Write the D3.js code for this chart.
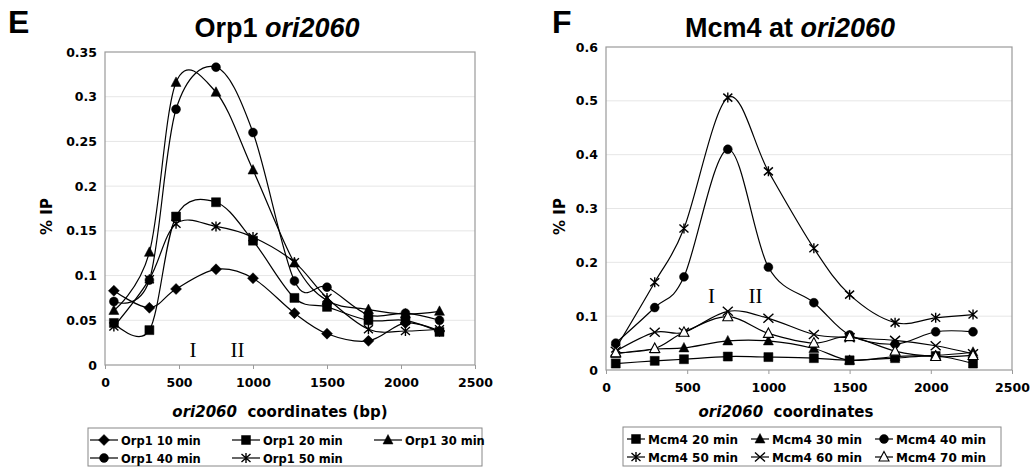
<!DOCTYPE html>
<html>
<head>
<meta charset="utf-8">
<script src="https://cdn.jsdelivr.net/npm/d3@7"></script>
<style>
  body { margin: 0; background: #fff; }
  svg { display: block; }
  text { fill: #000; }
  .tick-label { font-family: "DejaVu Sans", Verdana, sans-serif; font-weight: bold; font-size: 12.5px; }
  .axis-title { font-family: "DejaVu Sans", Verdana, sans-serif; font-weight: bold; font-size: 15px; }
  .chart-title { font-family: "Liberation Sans", Arial, sans-serif; font-weight: bold; font-size: 27px; }
  .panel { font-family: "Liberation Sans", Arial, sans-serif; font-weight: bold; font-size: 32px; }
  .roman { font-family: "Liberation Serif", "Times New Roman", serif; font-size: 21px; }
  .legend-text { font-family: "DejaVu Sans", Verdana, sans-serif; font-weight: bold; }
</style>
</head>
<body>
<svg id="chart" width="1032" height="467"></svg>
<script>
// sample positions along ori2060 (bp), shared by both panels
var coords = [60, 300, 480, 750, 1000, 1280, 1500, 1780, 2030, 2260];

// panel E: Orp1
var orpNames = ["Orp1 10 min", "Orp1 20 min", "Orp1 30 min", "Orp1 40 min", "Orp1 50 min"];
var orp10 = [0.083, 0.064, 0.085, 0.107, 0.097, 0.058, 0.035, 0.027, 0.047, 0.038];
var orp20 = [0.047, 0.039, 0.166, 0.182, 0.139, 0.075, 0.065, 0.050, 0.050, 0.037];
var orp30 = [0.061, 0.126, 0.316, 0.305, 0.218, 0.114, 0.072, 0.062, 0.057, 0.060];
var orp40 = [0.071, 0.095, 0.286, 0.333, 0.260, 0.094, 0.087, 0.056, 0.058, 0.050];
var orp50 = [0.043, 0.096, 0.158, 0.155, 0.143, 0.115, 0.075, 0.040, 0.038, 0.040];
var orpYTicks = [0, 0.05, 0.1, 0.15, 0.2, 0.25, 0.3, 0.35];

// panel F: Mcm4
var mcmNames = ["Mcm4 20 min", "Mcm4 30 min", "Mcm4 40 min", "Mcm4 50 min", "Mcm4 60 min", "Mcm4 70 min"];
var mcm20 = [0.012, 0.017, 0.020, 0.025, 0.024, 0.022, 0.018, 0.022, 0.026, 0.012];
var mcm30 = [0.030, 0.039, 0.041, 0.054, 0.054, 0.040, 0.018, 0.025, 0.027, 0.033];
var mcm40 = [0.050, 0.116, 0.173, 0.410, 0.191, 0.125, 0.065, 0.048, 0.071, 0.071];
var mcm50 = [0.040, 0.163, 0.263, 0.506, 0.369, 0.226, 0.140, 0.088, 0.097, 0.103];
var mcm60 = [0.035, 0.070, 0.070, 0.109, 0.096, 0.066, 0.060, 0.055, 0.045, 0.030];
var mcm70 = [0.032, 0.040, 0.070, 0.099, 0.068, 0.050, 0.062, 0.035, 0.025, 0.027];
var mcmYTicks = [0, 0.1, 0.2, 0.3, 0.4, 0.5, 0.6];

var xTicks = [0, 500, 1000, 1500, 2000, 2500];

var svg = d3.select("#chart");

// marker shapes, drawn around (0,0)
function markerPath(kind) {
  if (kind === "diamond") return "M0,-5.5L5.5,0L0,5.5L-5.5,0Z";
  if (kind === "square") return "M-4.5,-4.5H4.5V4.5H-4.5Z";
  if (kind === "triangle") return "M0,-5.5L5,4L-5,4Z";
  if (kind === "circle") return d3.symbol(d3.symbolCircle, 62)();
  if (kind === "asterisk") return "M0,-5V5M-4.5,-4L4.5,4M-4.5,4L4.5,-4";
  if (kind === "times") return "M-5,-4.5L5,4.5M-5,4.5L5,-4.5";
  return "";
}

function drawMarker(g, kind, x, y) {
  var open = kind === "opentriangle";
  var shape = open ? "triangle" : kind;
  var stroked = shape === "asterisk" || shape === "times";
  g.append("path")
    .attr("transform", "translate(" + x + "," + y + ")")
    .attr("d", markerPath(shape))
    .attr("fill", stroked ? "none" : (open ? "#fff" : "#000"))
    .attr("stroke", "#000")
    .attr("stroke-width", stroked ? 1.4 : (open ? 1.1 : 0.5));
}

function drawPanel(opt) {
  var x = d3.scaleLinear().domain([0, 2500]).range([opt.left, opt.right]);
  var y = d3.scaleLinear().domain([0, opt.yMax]).range([opt.bottom, opt.top]);
  var g = svg.append("g");

  // gridlines
  g.selectAll(".grid").data(opt.yTicks.slice(1, -1)).enter().append("line")
    .attr("x1", opt.left).attr("x2", opt.right)
    .attr("y1", function(d) { return y(d); }).attr("y2", function(d) { return y(d); })
    .attr("stroke", "#e6e6e6").attr("stroke-width", 1);

  // plot frame
  g.append("rect")
    .attr("x", opt.left).attr("y", opt.top)
    .attr("width", opt.right - opt.left).attr("height", opt.bottom - opt.top)
    .attr("fill", "none").attr("stroke", "#9a9a9a").attr("stroke-width", 1.2);

  // axes
  var xAxis = d3.axisBottom(x).tickValues(xTicks).tickSize(4).tickPadding(9).tickFormat(d3.format("d"));
  var yAxis = d3.axisLeft(y).tickValues(opt.yTicks).tickSize(0).tickPadding(8).tickFormat(d3.format("~g"));
  var xa = g.append("g").attr("transform", "translate(0," + opt.bottom + ")").call(xAxis);
  var ya = g.append("g").attr("transform", "translate(" + opt.left + ",0)").call(yAxis);
  [xa, ya].forEach(function(a) {
    a.select(".domain").remove();
    a.selectAll("line").attr("stroke", "#9a9a9a");
    a.selectAll("text").attr("class", "tick-label").attr("font-family", null).attr("font-size", null).attr("fill", "#000");
  });

  // curves
  var line = d3.line()
    .x(function(d, i) { return x(coords[i]); })
    .y(function(d) { return y(d); })
    .curve(d3.curveCardinal.tension(0));
  opt.series.forEach(function(s) {
    g.append("path").attr("d", line(s.values))
      .attr("fill", "none").attr("stroke", "#000").attr("stroke-width", 1.2);
  });
  opt.series.forEach(function(s) {
    s.values.forEach(function(v, i) { drawMarker(g, s.marker, x(coords[i]), y(v)); });
  });

  // roman numeral labels
  g.append("text").attr("class", "roman").attr("text-anchor", "middle")
    .attr("x", x(opt.romanX[0])).attr("y", y(opt.romanY)).text("I");
  g.append("text").attr("class", "roman").attr("text-anchor", "middle")
    .attr("x", x(opt.romanX[1])).attr("y", y(opt.romanY)).text("II");

  // y axis title
  g.append("text").attr("class", "axis-title").attr("text-anchor", "middle")
    .attr("transform", "translate(" + opt.yTitleX + "," + ((opt.top + opt.bottom) / 2 + 8) + ") rotate(-90)")
    .text("% IP");

  // x axis title
  var xt = g.append("text").attr("class", "axis-title").attr("text-anchor", "middle")
    .attr("x", opt.xTitleX).attr("y", 417);
  xt.append("tspan").attr("font-style", "italic").text("ori2060");
  xt.append("tspan").text("\u00a0 coordinates" + opt.xTitleTail);

  // chart title
  var tt = g.append("text").attr("class", "chart-title").attr("text-anchor", "middle")
    .attr("x", opt.titleX).attr("y", 37);
  tt.append("tspan").text(opt.titleMain);
  tt.append("tspan").attr("font-style", "italic").text("ori2060");

  g.append("text").attr("class", "panel").attr("x", opt.panelX).attr("y", 33).text(opt.panel);

  // legend
  var L = opt.legend;
  g.append("rect").attr("x", L.x).attr("y", L.y).attr("width", L.w).attr("height", L.h)
    .attr("fill", "#fff").attr("stroke", "#888").attr("stroke-width", 1);
  opt.series.forEach(function(s, i) {
    var col = i % L.cols, row = Math.floor(i / L.cols);
    var lx = L.x + L.pad + col * L.colW;
    var ly = L.y + 12 + row * 18;
    g.append("line").attr("x1", lx).attr("x2", lx + L.lineW).attr("y1", ly).attr("y2", ly)
      .attr("stroke", "#000").attr("stroke-width", 1.2);
    drawMarker(g, s.marker, lx + L.lineW / 2, ly);
    g.append("text").attr("class", "legend-text").attr("font-size", L.font)
      .attr("x", lx + L.lineW + 3).attr("y", ly + 4.5).text(s.name);
  });
}

drawPanel({
  left: 105, right: 475, top: 52, bottom: 365, yMax: 0.35, yTicks: orpYTicks,
  series: [
    { name: orpNames[0], values: orp10, marker: "diamond" },
    { name: orpNames[1], values: orp20, marker: "square" },
    { name: orpNames[2], values: orp30, marker: "triangle" },
    { name: orpNames[3], values: orp40, marker: "circle" },
    { name: orpNames[4], values: orp50, marker: "asterisk" }
  ],
  romanX: [595, 895], romanY: 0.0085,
  yTitleX: 52, xTitleX: 280, xTitleTail: " (bp)",
  titleX: 277, titleMain: "Orp1 ", panel: "E", panelX: 8,
  legend: { x: 88, y: 428, w: 394, h: 38, cols: 3, colW: 142, pad: 2, lineW: 28, font: "11.5px" }
});

drawPanel({
  left: 606, right: 1012, top: 47, bottom: 370, yMax: 0.6, yTicks: mcmYTicks,
  series: [
    { name: mcmNames[0], values: mcm20, marker: "square" },
    { name: mcmNames[1], values: mcm30, marker: "triangle" },
    { name: mcmNames[2], values: mcm40, marker: "circle" },
    { name: mcmNames[3], values: mcm50, marker: "asterisk" },
    { name: mcmNames[4], values: mcm60, marker: "times" },
    { name: mcmNames[5], values: mcm70, marker: "opentriangle" }
  ],
  romanX: [650, 920], romanY: 0.125,
  yTitleX: 565, xTitleX: 786, xTitleTail: "",
  titleX: 790, titleMain: "Mcm4 at ", panel: "F", panelX: 552,
  legend: { x: 623, y: 427, w: 378, h: 39, cols: 3, colW: 124, pad: 4, lineW: 18, font: "12px" }
});
</script>
</body>
</html>
